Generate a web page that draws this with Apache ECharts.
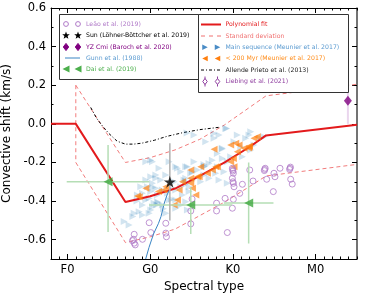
<!DOCTYPE html>
<html><head><meta charset="utf-8">
<script src="https://cdn.jsdelivr.net/npm/echarts@6/dist/echarts.min.js"></script>
<style>html,body{margin:0;padding:0;background:#fff}#c{width:369px;height:295px}</style>
</head><body><div id="c"></div>
<script>
// ---- data (x: spectral type, F0=0, G0=10, K0=20, M0=30; y: km/s) ----
const tickValues = [0, 10, 20, 30];
const tickLabels = ['F0', 'G0', 'K0', 'M0'];
const yTickValues = [-0.6, -0.4, -0.2, 0, 0.2, 0.4, 0.6];

const fitX = [-2, 1, 7, 10, 13, 16, 19, 22, 24, 35];
const fitY = [0, 0, -0.405, -0.375, -0.335, -0.27, -0.20, -0.12, -0.06, -0.005];
const stdX = [1, 7, 10, 13, 16, 19, 22, 24, 35];
const stdUpperY = [0.2, -0.2, -0.175, -0.135, -0.08, -0.005, 0.085, 0.145, 0.205];
const stdLowerY = [-0.2, -0.615, -0.585, -0.545, -0.475, -0.405, -0.325, -0.27, -0.21];

const allendeX = [2.8, 3.5, 4.2, 5, 6, 7, 8, 9, 10.5, 12, 14, 16, 18.3];
const allendeY = [0.085, 0.03, -0.01, -0.05, -0.09, -0.105, -0.105, -0.10, -0.085, -0.065, -0.045, -0.03, -0.018];

const gunnX = [9.45, 9.85, 10.4, 11.0, 11.3, 11.7, 12.1, 12.5];
const gunnY = [-0.70, -0.64, -0.57, -0.515, -0.48, -0.41, -0.36, -0.33];

const msX = [15.3, 14.46, 11.07, 13.29, 14.3, 10.07, 10.68, 11.28, 10.27, 9.66, 10.68, 11.47, 10.07, 9.06, 10.87, 12.08, 13.09, 13.7, 9.87, 10.87, 9.06, 10.27, 11.47, 8.66, 9.87, 8.06, 11.88, 13.09, 14.3, 13.89, 14.7, 6.85, 7.45,
  19.25, 17.72, 21.55, 21.94, 23.36, 22.55, 22.15, 20.94, 20.13, 18.72, 18.12, 21.14, 18.72, 15.3, 17.11, 18.12, 17.92, 18.92, 16.51, 14.9, 15.1, 14.09, 16.11, 17.11, 18.32, 14.7, 19.32,
  16.71, 12.28, 13.09, 10.27, 9.47, 10.07, 17.72, 19.13,
  14.3, 14.4, 16.5, 16.6, 18.7, 10.3, 10.8, 11.0, 12.6, 11.6, 8.4, 7.9,
  10.68, 9.47, 8.86, 8.45, 9.47, 10.47, 10.07, 9.06, 12.28, 13.09, 13.7, 14.5, 12.89, 14.3, 13.7, 15.1, 11.88,
  19.73, 20.53, 22.15, 23.76, 16.51, 17.51, 19.32, 15.7, 14.5, 18.32];
const msY = [-0.058, -0.048, -0.23, -0.23, -0.222, -0.274, -0.282, -0.291, -0.308, -0.326, -0.334, -0.343, -0.351, -0.36, -0.368, -0.36, -0.343, -0.326, -0.386, -0.403, -0.42, -0.429, -0.42, -0.455, -0.463, -0.463, -0.463, -0.437, -0.403, -0.368, -0.351, -0.506, -0.524,
  -0.024, -0.075, -0.075, -0.058, -0.075, -0.11, -0.136, -0.119, -0.093, -0.127, -0.153, -0.171, -0.179, -0.196, -0.205, -0.222, -0.256, -0.248, -0.265, -0.256, -0.291, -0.291, -0.3, -0.282, -0.291, -0.326, -0.308,
  -0.093, -0.196, -0.222, -0.196, -0.196, -0.188, -0.05, -0.024,
  -0.30, -0.31, -0.21, -0.22, -0.13, -0.33, -0.42, -0.41, -0.39, -0.44, -0.40, -0.48,
  -0.265, -0.291, -0.326, -0.368, -0.394, -0.411, -0.446, -0.472, -0.394, -0.394, -0.42, -0.446, -0.30, -0.282, -0.248, -0.248, -0.265,
  -0.171, -0.058, -0.041, -0.067, -0.222, -0.188, -0.196, -0.239, -0.222, -0.058];

const youngX = [9.47, 8.66, 10.99, 11.67, 12.89, 14.9, 15.1, 17.72, 16.11, 14.9, 13.89, 15.91, 16.91, 17.92, 17.51, 13.29, 19.73, 20.74, 21.34, 21.94, 22.55, 22.95, 20.13, 18.12, 15.7, 14.9, 20.53, 20.34, 19.73, 15.51, 13.49, 8.45, 11.88, 20.05, 21.9, 22.0];
const youngY = [-0.334, -0.377, -0.351, -0.343, -0.42, -0.282, -0.334, -0.132, -0.222, -0.239, -0.3, -0.274, -0.256, -0.222, -0.239, -0.394, -0.11, -0.11, -0.127, -0.119, -0.075, -0.067, -0.222, -0.222, -0.274, -0.308, -0.145, -0.101, -0.196, -0.368, -0.343, -0.374, -0.326, -0.179, -0.125, -0.115];

const leaoX = [8.06, 7.97, 8.06, 8.18, 7.85, 9.06, 9.87, 10.07, 11.88, 11.88, 11.96, 14.9, 14.9, 15.06, 18.02, 18.02, 19.05, 19.32, 19.93, 20.05, 19.93, 20.05, 20.13, 21.14, 22.03, 22.43, 20.82, 20.05, 19.93, 23.84, 24.08, 24.96, 25.08, 25.69, 26.9, 26.98, 27.17, 24.88,
  19.97, 20.0, 20.0, 23.9, 23.8, 26.85, 26.95];
const leaoY = [-0.572, -0.598, -0.618, -0.627, -0.605, -0.598, -0.512, -0.563, -0.515, -0.566, -0.585, -0.451, -0.518, -0.389, -0.411, -0.451, -0.386, -0.563, -0.23, -0.256, -0.282, -0.308, -0.326, -0.313, -0.239, -0.296, -0.36, -0.391, -0.437, -0.236, -0.287, -0.256, -0.274, -0.23, -0.23, -0.287, -0.312, -0.351,
  -0.238, -0.245, -0.30, -0.23, -0.242, -0.236, -0.224];

const daiX = [4.9, 14.9, 21.9];
const daiY = [-0.30, -0.42, -0.41];
const daiXLo = [-0.1, 9.85, 18.9];
const daiXHi = [9.9, 19.9, 24.9];
const daiYLo = [-0.56, -0.57, -0.62];
const daiYHi = [-0.11, -0.33, -0.20];

const sunX = [12.37], sunY = [-0.30], sunYLo = [-0.50], sunYHi = [-0.10];
const yzX = [33.9], yzY = [0.12], yzYLo = [0.0], yzYHi = [0.24];

// ---- helpers ----
const zip = (xs, ys) => xs.map((x, i) => [x, ys[i]]);
const FONT = 'DejaVu Sans';
const starPath = 'path://M50,0 L61,35 L98,35 L68,57 L79,91 L50,70 L21,91 L32,57 L2,35 L39,35 Z';

function errSeries(segs, color, width, z) {
  return segs.map(s => ({
    type: 'line', data: s, symbol: 'none', silent: true, z: z,
    lineStyle: { color: color, width: width }, animation: false
  }));
}
const daiErr = [];
daiX.forEach((x, i) => {
  daiErr.push([[daiXLo[i], daiY[i]], [daiXHi[i], daiY[i]]]);
  daiErr.push([[x, daiYLo[i]], [x, daiYHi[i]]]);
});
const sunErr = sunX.map((x, i) => [[x, sunYLo[i]], [x, sunYHi[i]]]);
const yzErr = yzX.map((x, i) => [[x, yzYLo[i]], [x, yzYHi[i]]]);

const xMin = -2, xMax = 35, yMin = -0.7, yMax = 0.6;
function xAx(pos, major) {
  return {
    type: 'value', min: xMin, max: xMax, position: pos,
    interval: major ? undefined : 1,
    axisLine: { show: major, onZero: false, lineStyle: { color: '#000', width: 1 } },
    axisTick: major ? { inside: true, length: 5, customValues: tickValues, lineStyle: { color: '#000' } }
                    : { inside: true, length: 2.5, lineStyle: { color: '#000' } },
    axisLabel: (major && pos === 'bottom') ? { customValues: tickValues, formatter: v => tickLabels[tickValues.indexOf(Math.round(v))] || '', color: '#000', fontSize: 11.5, fontFamily: FONT, margin: 5 } : { show: false },
    splitLine: { show: false },
    name: (major && pos === 'bottom') ? 'Spectral type' : '',
    nameLocation: 'middle', nameGap: 19,
    nameTextStyle: { fontSize: 12, fontFamily: FONT, color: '#000' }
  };
}
function yAx(pos, major) {
  return {
    type: 'value', min: yMin, max: yMax, position: pos,
    interval: major ? undefined : 0.1,
    axisLine: { show: major, onZero: false, lineStyle: { color: pos === 'right' ? '#444' : '#000', width: pos === 'right' ? 1.5 : 1 } },
    axisTick: major ? { inside: true, length: 5, customValues: yTickValues, lineStyle: { color: '#000' } }
                    : { inside: true, length: 2.5, lineStyle: { color: '#000' } },
    axisLabel: (major && pos === 'left') ? { customValues: yTickValues, formatter: v => v.toFixed(1), color: '#000', fontSize: 11.5, fontFamily: FONT, margin: 5 } : { show: false },
    splitLine: { show: false },
    name: (major && pos === 'left') ? 'Convective shift (km/s)' : '',
    nameLocation: 'middle', nameGap: 33, nameRotate: 90,
    nameTextStyle: { fontSize: 12, fontFamily: FONT, color: '#000' }
  };
}

// ---- legend graphics ----
const g = [];
const Z = 100;
const LF = 6.2;
function box(x, y, w, h) { g.push({ type: 'rect', z: Z, shape: { x: x, y: y, width: w, height: h }, style: { fill: '#fff', stroke: '#333', lineWidth: 1 } }); }
function txt(x, y, t, c) { g.push({ type: 'text', z: Z, x: x, y: y, style: { text: t, fill: c, fontSize: LF, fontFamily: FONT, verticalAlign: 'middle', align: 'left' } }); }
function circ(cx, cy, r, c) { g.push({ type: 'circle', z: Z, shape: { cx: cx, cy: cy, r: r }, style: { fill: 'none', stroke: c, lineWidth: 1 } }); }
function tri(cx, cy, s, dir, c) {
  const h = s / 2;
  const pts = dir > 0 ? [[cx - h, cy - h], [cx + h, cy], [cx - h, cy + h]] : [[cx + h, cy - h], [cx - h, cy], [cx + h, cy + h]];
  g.push({ type: 'polygon', z: Z, shape: { points: pts }, style: { fill: c } });
}
function diam(cx, cy, s, fill, stroke) {
  g.push({ type: 'polygon', z: Z, shape: { points: [[cx, cy - s], [cx + s * 0.75, cy], [cx, cy + s], [cx - s * 0.75, cy]] }, style: { fill: fill, stroke: stroke, lineWidth: 1 } });
}
function star(cx, cy, r, c) {
  const pts = [];
  for (let k = 0; k < 10; k++) {
    const a = -Math.PI / 2 + k * Math.PI / 5;
    const rr = k % 2 === 0 ? r : r * 0.42;
    pts.push([cx + rr * Math.cos(a), cy + rr * Math.sin(a)]);
  }
  g.push({ type: 'polygon', z: Z, shape: { points: pts }, style: { fill: c } });
}
function seg(x1, x2, y, c, w, dash) {
  g.push({ type: 'line', z: Z, shape: { x1: x1, y1: y, x2: x2, y2: y }, style: { stroke: c, lineWidth: w, lineDash: dash || null } });
}

box(59.5, 14.5, 141, 65);
const L1 = [66, 78], LT = 86;
const ly = [24, 35.5, 47, 58, 69];
L1.forEach(x => circ(x, ly[0], 2.4, '#b07ac8'));
txt(LT, ly[0], 'Leão et al. (2019)', '#b07ac8');
L1.forEach(x => star(x, ly[1], 4, '#000'));
txt(LT, ly[1], 'Sun (Löhner-Böttcher et al. 2019)', '#000');
L1.forEach(x => diam(x, ly[2], 3.6, '#800080', '#800080'));
txt(LT, ly[2], 'YZ Cmi (Baroch et al. 2020)', '#800080');
seg(65, 80, ly[3], '#3a85c4', 1);
txt(LT, ly[3], 'Gunn et al. (1988)', '#5a9ad0');
L1.forEach(x => tri(x, ly[4], 7, -1, '#4caf4c'));
txt(LT, ly[4], 'Dai et al. (2019)', '#4caf4c');

box(198.5, 14.5, 150, 78);
const R1 = [205, 217.5], RT = 225.5;
const ry = [24.5, 36, 47.3, 58.6, 70, 81.5];
seg(201, 221, ry[0], '#e31a1c', 2);
txt(RT, ry[0], 'Polynomial fit', '#e31a1c');
seg(201, 221, ry[1], '#f07070', 1, [4, 4]);
txt(RT, ry[1], 'Standard deviation', '#f07070');
R1.forEach(x => tri(x, ry[2], 5.5, 1, '#4a8cc6'));
txt(RT, ry[2], 'Main sequence (Meunier et al. 2017)', '#5a9ad0');
R1.forEach(x => tri(x, ry[3], 5.5, -1, '#ff7f0e'));
txt(RT, ry[3], '< 200 Myr (Meunier et al. 2017)', '#ff8c1a');
seg(201, 221, ry[4], '#000', 1, [3, 2, 1, 2]);
txt(RT, ry[4], 'Allende Prieto et al. (2013)', '#222');
R1.forEach(x => {
  g.push({ type: 'line', z: Z, shape: { x1: x, y1: ry[5] - 5, x2: x, y2: ry[5] + 5 }, style: { stroke: '#9040a0', lineWidth: 1 } });
  diam(x, ry[5], 3, '#fff', '#9040a0');
});
txt(RT, ry[5], 'Liebing et al. (2021)', '#9040a0');

const chart = echarts.init(document.getElementById('c'), null, { renderer: 'canvas' });
chart.setOption({
  animation: false,
  backgroundColor: '#fff',
  grid: { left: 51, right: 12, top: 8, bottom: 36, containLabel: false, outerBoundsMode: 'none' },
  xAxis: [xAx('bottom', true), xAx('bottom', false), xAx('top', true), xAx('top', false)],
  yAxis: [yAx('left', true), yAx('left', false), yAx('right', true), yAx('right', false)],
  series: [
    { type: 'line', data: zip(stdX, stdUpperY), symbol: 'none', z: 2, lineStyle: { color: '#f27c7c', width: 1, type: [4, 3] } },
    { type: 'line', data: zip(stdX, stdLowerY), symbol: 'none', z: 2, lineStyle: { color: '#f27c7c', width: 1, type: [4, 3] } },
    { type: 'line', data: [[stdX[0], stdUpperY[0]], [stdX[0], stdLowerY[0]]], symbol: 'none', z: 2, lineStyle: { color: '#f27c7c', width: 1, type: [4, 3] } },
    { type: 'line', data: zip(allendeX, allendeY), symbol: 'none', z: 2, lineStyle: { color: '#000', width: 1, type: [3, 2, 1, 2] } },
    { type: 'scatter', data: zip(msX, msY), symbol: 'triangle', symbolRotate: -90, symbolSize: 7, z: 3, itemStyle: { color: 'rgba(31,119,180,0.25)' } },
    { type: 'line', data: zip(fitX, fitY), symbol: 'none', z: 4, lineStyle: { color: '#e31a1c', width: 2 } },
    { type: 'scatter', data: zip(youngX, youngY), symbol: 'triangle', symbolRotate: 90, symbolSize: 7, z: 5, itemStyle: { color: 'rgba(255,127,14,0.85)' } },
    { type: 'scatter', data: zip(leaoX, leaoY), symbol: 'circle', symbolSize: 6, z: 5, itemStyle: { color: 'rgba(0,0,0,0)', borderColor: '#b07ac8', borderWidth: 1 } },
    { type: 'line', data: zip(gunnX, gunnY), symbol: 'none', z: 6, lineStyle: { color: '#3a85c4', width: 1 } },
    ...errSeries(daiErr, '#b5deb5', 1.5, 6),
    ...errSeries(sunErr, '#b0b0b0', 1.5, 6),
    ...errSeries(yzErr, '#ead6ee', 2, 6),
    { type: 'scatter', data: zip(daiX, daiY), symbol: 'triangle', symbolRotate: 90, symbolSize: 9, z: 7, itemStyle: { color: '#3fa83f' } },
    { type: 'scatter', data: zip(sunX, sunY), symbol: starPath, symbolSize: 12, z: 8, itemStyle: { color: '#000' } },
    { type: 'scatter', data: zip(yzX, yzY), symbol: 'diamond', symbolSize: [8, 10], z: 8, itemStyle: { color: '#800080' } }
  ],
  graphic: g
});
</script></body></html>
